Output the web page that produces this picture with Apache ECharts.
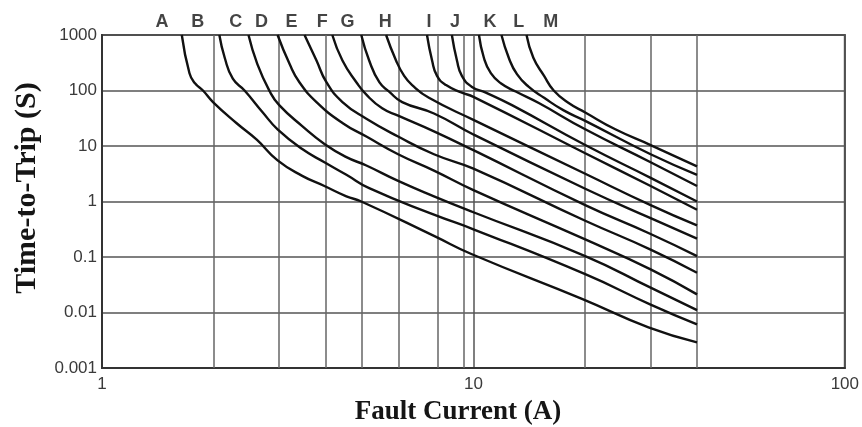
<!DOCTYPE html>
<html><head><meta charset="utf-8">
<script src="https://cdn.jsdelivr.net/npm/echarts@6/dist/echarts.min.js"></script>
<style>html,body{margin:0;padding:0;background:#fff}#c{width:862px;height:427px}</style>
</head><body><div id="c"></div>
<script>
// ---- data ----
const curveNames = ['A','B','C','D','E','F','G','H','I','J','K','L','M'];
const curveA = [[1.64,1000],[1.72,205],[1.78,135],[1.87,100],[1.99,62],[2.30,26],[2.61,13],[2.97,5.5],[3.46,2.9],[3.97,1.9],[4.55,1.24],[4.99,1.0],[7.83,0.24],[9.91,0.112],[19.6,0.0176],[29.6,0.0054],[40,0.0029]];
const curveB = [[2.07,1000],[2.14,389],[2.25,163],[2.42,100],[2.71,40.2],[2.97,20],[3.46,8.8],[3.97,5.1],[4.55,3.03],[5.24,1.74],[7.83,0.58],[10,0.316],[20,0.049],[30,0.0139],[40,0.0061]];
const curveC = [[2.48,1000],[2.62,299],[2.83,95.7],[3.0,54.5],[3.46,22.8],[3.97,10.9],[4.55,6.3],[5.15,4.45],[6.27,2.35],[7.83,1.24],[10,0.64],[20,0.104],[30,0.028],[40,0.011]];
const curveD = [[2.97,1000],[3.2,299],[3.4,141],[3.78,61.9],[4.44,26],[5.15,14.8],[6.27,7.1],[7.83,3.6],[10,1.6],[20,0.207],[30,0.06],[40,0.0212]];
const curveE = [[3.51,1000],[3.78,347],[4.02,141],[4.44,61.9],[5.15,31],[6.27,14.8],[7.83,7.1],[10,3.9],[20,0.45],[30,0.136],[40,0.052]];
const curveF = [[4.17,1000],[4.44,347],[4.84,141],[5.15,84],[5.68,47.8],[6.27,35.3],[7.83,18.4],[10,8.4],[20,0.86],[30,0.26],[40,0.104]];
const curveG = [[4.99,1000],[5.24,347],[5.58,141],[5.93,95.7],[6.43,61.9],[7.83,38.5],[10,16.1],[20,1.7],[30,0.5],[40,0.215]];
const curveH = [[5.82,1000],[6.19,347],[6.51,183],[6.84,125],[7.59,73.8],[10,29.6],[20,3.16],[30,0.86],[40,0.37]];
const curveI = [[7.5,1000],[7.74,347],[7.98,183],[8.44,125],[9.31,91.7],[10,77],[20,7.4],[30,1.9],[40,0.71]];
const curveJ = [[8.75,1000],[9.03,347],[9.31,183],[9.91,116],[10.8,91.7],[12.7,54.5],[20,10.4],[30,2.67],[40,1.0]];
const curveK = [[10.35,1000],[10.67,389],[11.14,205],[11.85,135],[13.0,95.7],[15.0,59.4],[20,20],[30,5.1],[40,1.9]];
const curveL = [[11.9,1000],[12.45,389],[13.1,197],[14.1,116],[15.5,73.8],[17.5,43.8],[20,28.4],[30,7.1],[40,3.03]];
const curveM = [[13.9,1000],[14.5,389],[15.5,183],[16.45,100],[18.05,59.4],[20,40.2],[24.1,20],[30,10.4],[40,4.3]];
const curves = [curveA,curveB,curveC,curveD,curveE,curveF,curveG,curveH,curveI,curveJ,curveK,curveL,curveM];
const letterX = [1.45,1.81,2.29,2.69,3.24,3.92,4.58,5.79,7.59,8.92,11.08,13.25,16.15];
const letterY = 1000;
const xGridValues = [2,3,4,5,6.3,8,9.4,20,30,40];
const xTickLabels = ['1','10','100'];
const yTickLabels = ['0.001','0.01','0.1','1','10','100','1000'];

// ---- chart ----
const chart = echarts.init(document.getElementById('c'));
const series = curves.map((d,i)=>({
  name: curveNames[i], type:'line', data:d, showSymbol:false, z:5,
  smooth:0.5, silent:true,
  lineStyle:{color:'#111', width:2.4}
}));
series.push({
  type:'scatter', z:2, clip:false, silent:true, symbolSize:0,
  data: letterX.map((x,i)=>({value:[x,letterY], name:curveNames[i]})),
  label:{show:true, position:'inside', offset:[0,-13], formatter:p=>p.name,
    fontFamily:'Liberation Sans', fontWeight:'bold', fontSize:18, color:'#151515'},
  markLine:{silent:true, symbol:'none', label:{show:false},
    lineStyle:{color:'#666', width:1.5, type:'solid'},
    data: xGridValues.map(v=>({xAxis:v}))}
});
chart.setOption({
  animation:false,
  grid:{left:102, top:35, right:15, bottom:59, show:true, borderColor:'#444', borderWidth:2},
  xAxis:{type:'log', logBase:10, min:1, max:100,
    axisLine:{show:true, lineStyle:{color:'#333', width:2}}, axisTick:{show:false},
    splitLine:{show:true, lineStyle:{color:'#555', width:1.5}},
    minorSplitLine:{show:false},
    axisLabel:{margin:8, fontFamily:'Liberation Sans', fontSize:17, color:'#3a3a3a',
      formatter:(v,i)=>xTickLabels[i] ?? ''}},
  yAxis:{type:'log', logBase:10, min:0.001, max:1000,
    axisLine:{show:true, lineStyle:{color:'#333', width:2}}, axisTick:{show:false},
    splitLine:{show:true, lineStyle:{color:'#555', width:1.5}},
    axisLabel:{margin:5, fontFamily:'Liberation Sans', fontSize:17, color:'#3a3a3a',
      formatter:(v,i)=>yTickLabels[i] ?? ''}},
  graphic:[
    {type:'text', x:27, y:188, rotation:Math.PI/2,
      style:{text:'Time-to-Trip (S)', font:'bold 30px "Liberation Serif"', fill:'#151515', textAlign:'center', textVerticalAlign:'middle'}},
    {type:'text', x:458, y:412,
      style:{text:'Fault Current (A)', font:'bold 27px "Liberation Serif"', fill:'#151515', textAlign:'center', textVerticalAlign:'middle'}}
  ],
  series
});
</script></body></html>
